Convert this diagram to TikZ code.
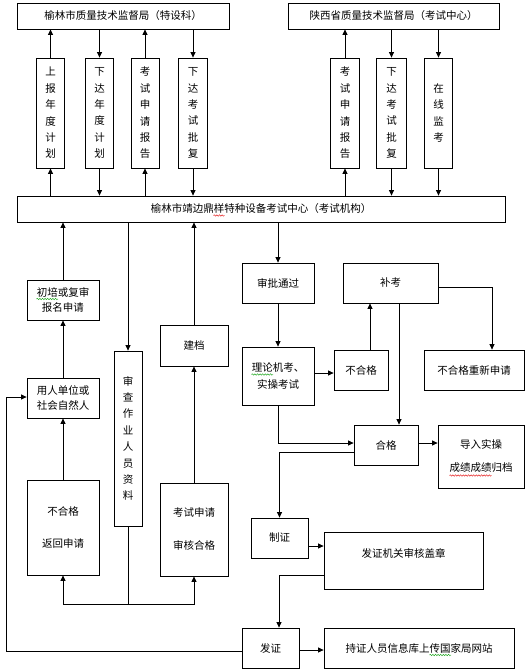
\documentclass[tikz,border=0pt]{standalone}
\usepackage{fontspec}
\setmainfont{Noto Sans CJK SC}
\usetikzlibrary{arrows.meta,decorations.pathmorphing}
\definecolor{spellred}{RGB}{230,40,40}
\definecolor{spellgreen}{RGB}{40,170,40}
\begin{document}
\begin{tikzpicture}[x=1pt,y=-1pt,
  box/.style={draw, line width=0.8pt, inner sep=0pt, align=center, font=\fontsize{10.5}{15.5}\selectfont},
  vbox/.style={box, font=\fontsize{10.5}{16.4}\selectfont},
  txt/.style={inner sep=0pt, align=center, font=\fontsize{10.5}{15.5}\selectfont},
  arr/.style={line width=0.8pt, -{Triangle[length=5.5pt,width=5pt]}},
  ln/.style={line width=0.8pt},
  squig/.style={line width=0.5pt, decorate, decoration={snake, amplitude=0.7pt, segment length=2.6pt}}]
\useasboundingbox (0,0) rectangle (528,672);
% top boxes
\node[box,minimum width=212pt,minimum height=26pt] (T1) at (123,16) {榆林市质量技术监督局（特设科）};
\node[box,minimum width=211pt,minimum height=26pt] (T2) at (393.5,16) {陕西省质量技术监督局（考试中心）};
\node[vbox,minimum width=28pt,minimum height=110pt] (V1) at (50.5,113) {上\\报\\年\\度\\计\\划};
\node[vbox,minimum width=28pt,minimum height=110pt] (V2) at (99.5,113) {下\\达\\年\\度\\计\\划};
\node[vbox,minimum width=28pt,minimum height=110pt] (V3) at (145,113) {考\\试\\申\\请\\报\\告};
\node[vbox,minimum width=29pt,minimum height=110pt] (V4) at (193,113) {下\\达\\考\\试\\批\\复};
\node[vbox,minimum width=29pt,minimum height=110pt] (V5) at (345,113) {考\\试\\申\\请\\报\\告};
\node[vbox,minimum width=30pt,minimum height=110pt] (V6) at (391.5,113) {下\\达\\考\\试\\批\\复};
\node[vbox,minimum width=28pt,minimum height=110pt] (V7) at (438.5,113) {在\\线\\监\\考};
\node[box,minimum width=488pt,minimum height=26pt] (M) at (261,209) {榆林市靖边鼎样特种设备考试中心（考试机构）};
% left column
\node[box,minimum width=72pt,minimum height=40pt] (C1) at (63,300) {初培或复审\\报名申请};
\node[box,minimum width=72pt,minimum height=40pt] (C2) at (63,398) {用人单位或\\社会自然人};
\node[box,minimum width=72pt,minimum height=95pt] (C3) at (63,527.5) {不合格\\[16.5pt]返回申请};
\node[vbox,minimum width=28pt,minimum height=175pt] (S) at (128,438.5) {审\\查\\作\\业\\人\\员\\资\\料};
\node[box,minimum width=68pt,minimum height=41pt] (J) at (194,345.5) {建档};
\node[box,minimum width=68pt,minimum height=93pt] (K) at (194,529.5) {考试申请\\[17.5pt]审核合格};
% right part
\node[box,minimum width=72pt,minimum height=40pt] (A) at (278,283) {审批通过};
\node[box,minimum width=95pt,minimum height=40pt] (B) at (390.5,283) {补考};
\node[box,minimum width=72pt,minimum height=58pt] (L) at (278,376) {理论机考、\\[1.5pt]实操考试};
\node[box,minimum width=54pt,minimum height=40pt] (N) at (361,370) {不合格};
\node[box,minimum width=100pt,minimum height=40pt] (R) at (474,370) {不合格重新申请};
\node[box,minimum width=64pt,minimum height=40pt] (H) at (386,445) {合格};
\node[box,minimum width=86pt,minimum height=63pt] (D) at (481,456.5) {导入实操\\[7.5pt]成绩成绩归档};
\node[box,minimum width=57pt,minimum height=40pt] (Z) at (279.5,538) {制证};
\node[box,minimum width=159pt,minimum height=57pt] (F) at (403.5,560.5) {};
\node[txt] (FT) at (403.5,553) {发证机关审核盖章};
\node[box,minimum width=57pt,minimum height=40pt] (G) at (270.5,648) {发证};
\node[box,minimum width=190pt,minimum height=40pt] (P) at (419,648) {持证人员信息库上传国家局网站};
\coordinate (split) at (128,604);
\coordinate (loopL) at (6,651);
% spell-check underlines
\draw[squig, spellred] (213.5,215.5) -- (224.5,215.5);
\draw[squig, spellgreen] (36.5,299) -- (58,299);
\draw[squig, spellgreen] (251.5,374.5) -- (273,374.5);
\draw[squig, spellred] (449.5,475.5) -- (491.5,475.5);
\draw[squig, spellgreen] (429.5,655) -- (451,655);
% top connectors
\draw[arr] (V1.north) -- (V1.north |- T1.south);
\draw[arr] (V1.south |- M.north) -- (V1.south);
\draw[arr] (V2.north |- T1.south) -- (V2.north);
\draw[arr] (V2.south) -- (V2.south |- M.north);
\draw[arr] (V3.north) -- (V3.north |- T1.south);
\draw[arr] (V3.south |- M.north) -- (V3.south);
\draw[arr] (V4.north |- T1.south) -- (V4.north);
\draw[arr] (V4.south) -- (V4.south |- M.north);
\draw[arr] (V5.north) -- (V5.north |- T2.south);
\draw[arr] (V5.south |- M.north) -- (V5.south);
\draw[arr] (V6.north |- T2.south) -- (V6.north);
\draw[arr] (V6.south) -- (V6.south |- M.north);
\draw[arr] (V7.north |- T2.south) -- (V7.north);
\draw[arr] (V7.south) -- (V7.south |- M.north);
% left connectors
\draw[arr] (C1.north) -- (C1.north |- M.south);
\draw[arr] (C2.north) -- (C1.south);
\draw[arr] (C3.north) -- (C2.south);
\draw[arr] (S.north |- M.south) -- (S.north);
\draw[ln] (S.south) -- (split);
\draw[arr] (split) -| (C3.south);
\draw[arr] (split) -| (K.south);
\draw[arr] (K.north) -- (J.south);
\draw[arr] (J.north) -- (J.north |- M.south);
% right connectors
\draw[arr] (A.north |- M.south) -- (A.north);
\draw[arr] (A.south) -- (L.north);
\draw[arr] ([yshift=3pt]L.east) -- ([yshift=3pt]L.east -| N.west);
\draw[arr] ([xshift=9pt]N.north) -- ([xshift=9pt]N.north |- B.south);
\draw[arr] ([yshift=-4pt]B.east) -| ([xshift=18pt]R.north);
\draw[arr] ([xshift=8.5pt]B.south) -- ([xshift=8.5pt]B.south |- H.north);
\draw[arr] (L.south) |- ([yshift=2pt]H.west);
\draw[arr] ([yshift=2pt]H.east) -- ([yshift=2pt]H.east -| D.west);
\draw[arr] ([yshift=-7pt]H.west) -| (Z.north);
\draw[arr] ([yshift=-8pt]Z.east) -- ([yshift=-8pt]Z.east -| F.west);
\draw[arr] ([yshift=-14.5pt]F.west) -| ([xshift=8.5pt]G.north);
\draw[arr] ([yshift=-2pt]G.east) -- ([yshift=-2pt]G.east -| P.west);
\draw[arr] ([yshift=-3pt]G.west) -| (loopL) |- ([yshift=1pt]C2.west);
\end{tikzpicture}
\end{document}
